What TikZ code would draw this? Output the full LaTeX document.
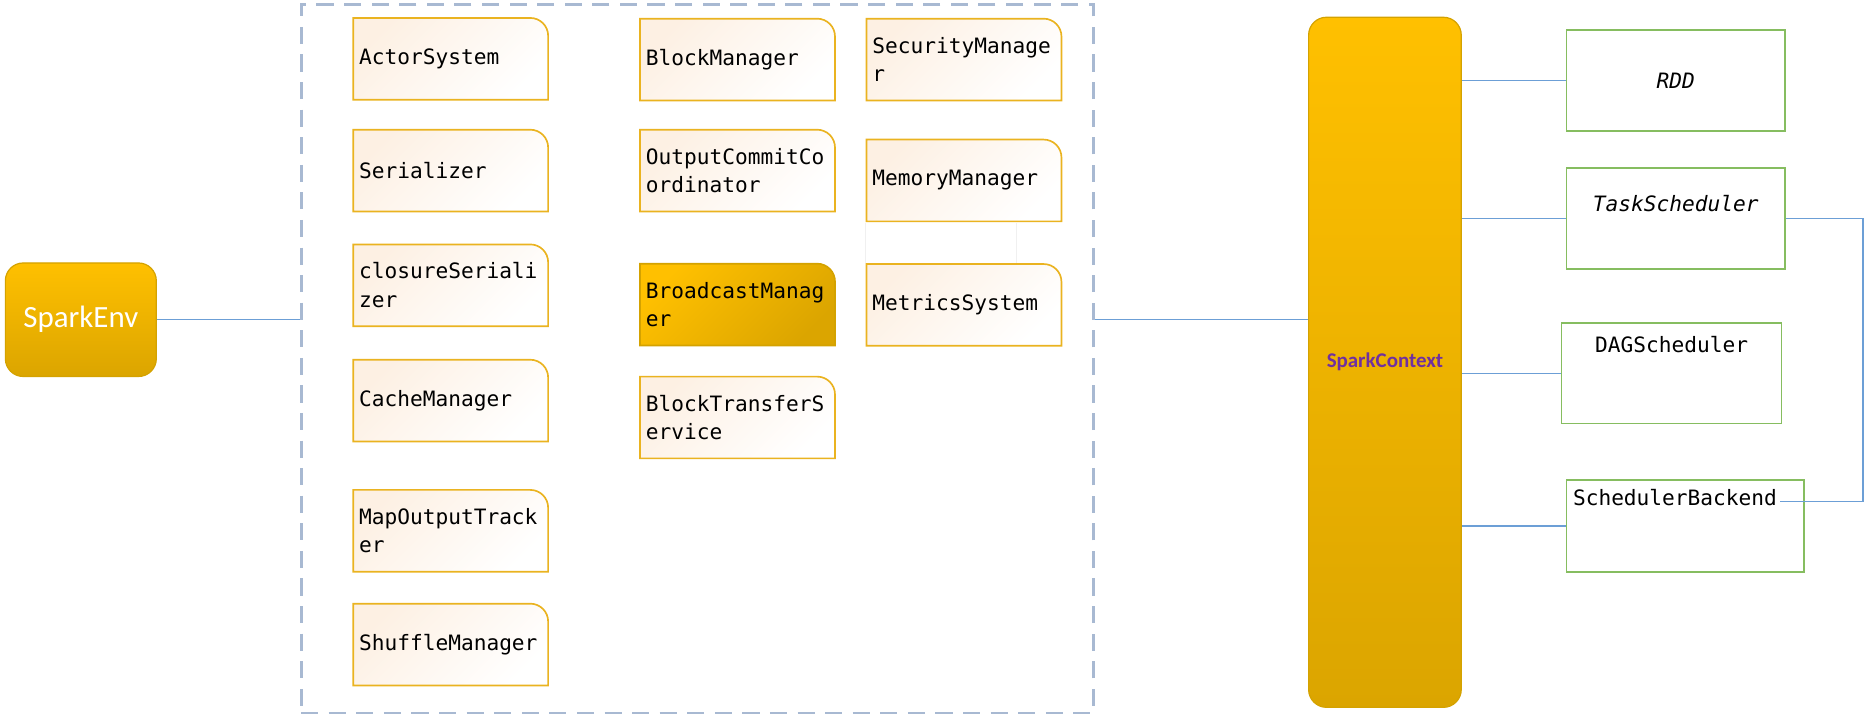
\documentclass[tikz,border=0pt]{standalone}
\usepackage{fontspec}
\usepackage{xcolor}
\usepackage{tikz}
\setmonofont{DejaVu Sans Mono}
\newfontfamily\calibri{Carlito}

\definecolor{sparkgold}{HTML}{FFC000}
\definecolor{sparkmid}{HTML}{EDB300}
\definecolor{sparkdark}{HTML}{DBA500}
\definecolor{goldline}{HTML}{D4A200}
\definecolor{peach}{HTML}{FDF0E3}
\definecolor{compline}{HTML}{EAB320}
\definecolor{schedgreen}{HTML}{86BD60}
\definecolor{linkblue}{HTML}{6C9FD6}
\definecolor{dashgray}{HTML}{A8B9D2}
\definecolor{ctxpurple}{HTML}{7030A0}

% box with one round corner (top right)
\newcommand\cornerbox[4]{%
  \shade[top color=#1, middle color=#2, bottom color=#3, shading angle=45, draw=#4, line width=.7pt]
    ([shift={(.35pt,.35pt)}]path picture bounding box.south west)
    -- ([shift={(.35pt,-.35pt)}]path picture bounding box.north west)
    -- ([shift={(-7.85pt,-.35pt)}]path picture bounding box.north east)
    arc[start angle=90, end angle=0, radius=7.5pt]
    -- ([shift={(-.35pt,.35pt)}]path picture bounding box.south east)
    -- cycle;}

\begin{document}
\begin{tikzpicture}[
        x=0.5pt, y=-0.5pt,
        compbase/.style={anchor=north west, minimum width=82.7pt, minimum height=35.1pt, text width=77pt, inner xsep=2.85pt, inner ysep=0pt, align=left, font=\ttfamily\fontsize{8.9}{12}\selectfont},
        comp/.style={compbase, path picture={\cornerbox{peach}{white}{white}{compline}}},
        compgold/.style={compbase, path picture={\cornerbox{sparkgold}{sparkmid}{sparkdark}{goldline}}},
        sparkbox/.style={anchor=north west, rounded corners=7.5pt, top color=sparkgold, bottom color=sparkdark, draw=goldline, line width=.5pt, inner sep=0pt},
        group/.style={anchor=north west, draw=dashgray, line width=1.3pt, dash pattern=on 7.2pt off 4.4pt},
        sched/.style={anchor=north west, draw=schedgreen, line width=.63pt, inner ysep=0pt, font=\ttfamily\fontsize{8.9}{12}\selectfont},
        link/.style={draw=linkblue, line width=.55pt},
        faint/.style={draw=black!6, line width=.5pt}
    ]
        \useasboundingbox (0,0) rectangle (1568,600.6);

        % SparkEnv and its members
        \node[sparkbox, minimum width=63.5pt, minimum height=47.75pt, text=white, font=\calibri\fontsize{13}{15}\selectfont] (sparkenv) at (4,220.7) {SparkEnv};
        \node[group, minimum width=333.3pt, minimum height=298.25pt] (env) at (252,2.2) {};

        \node[comp] (actor) at (296,14) {ActorSystem};
        \node[comp] (serializer) at (296,108) {Serializer};
        \node[comp] (closure) at (296,204.5) {closureSeriali\\zer};
        \node[comp] (cache) at (296,301.5) {CacheManager};
        \node[comp] (mapout) at (296,411) {MapOutputTrack\\er};
        \node[comp] (shuffle) at (296,506.7) {ShuffleManager};

        \node[comp] (block) at (537.3,14.6) {BlockManager};
        \node[comp] (outcommit) at (537.3,108) {OutputCommitCo\\ordinator};
        \node[compgold] (broadcast) at (537.3,220.7) {BroadcastManag\\er};
        \node[comp] (transfer) at (537.3,315.7) {BlockTransferS\\ervice};

        \node[comp] (security) at (727.8,14.6) {SecurityManage\\r};
        \node[comp] (memory) at (727.8,116.3) {MemoryManager};
        \node[comp] (metrics) at (727.8,221) {MetricsSystem};

        \draw[faint] (memory.south west) -- (metrics.north west);
        \draw[faint] ([xshift=63.5pt]memory.south west) -- ([xshift=63.5pt]metrics.north west);

        % SparkContext and its schedulers
        \node[sparkbox, minimum width=64.2pt, minimum height=290.25pt, text=ctxpurple, font=\calibri\bfseries\fontsize{8.8}{10}\selectfont] (sc) at (1100.3,14) {SparkContext};

        \node[sched, minimum width=92pt, minimum height=42.35pt, font=\ttfamily\itshape\fontsize{8.9}{12}\selectfont] (rdd) at (1317,24.7) {RDD};
        \node[sched, minimum width=92pt, text height=18.2pt, text depth=24.25pt, font=\ttfamily\itshape\fontsize{8.9}{12}\selectfont] (ts) at (1317,140.8) {TaskScheduler};
        \node[sched, minimum width=92.5pt, text height=12.4pt, text depth=30pt] (dag) at (1313,271) {DAGScheduler};
        \node[sched, text width=94.4pt, inner xsep=2.8pt, align=left, text height=10.8pt, text depth=27.9pt] (sb) at (1317,403.2) {SchedulerBackend};
        \coordinate (sbhook) at (1497,422);

        % Connections
        \draw[link] (sparkenv.east) -- (sparkenv.east -| env.west);
        \draw[link] (env.east |- sparkenv.east) -- (sc.west |- sparkenv.east);
        \draw[link] (sc.east |- rdd.west) -- (rdd.west);
        \draw[link] (sc.east |- ts.west) -- (ts.west);
        \draw[link] (sc.east |- dag.west) -- (dag.west);
        \draw[link] (sc.east |- sb.west) -- (sb.west);
        \draw[link] (ts.east) -- ++(65,0) |- (sbhook);
    \end{tikzpicture}
\end{document}
